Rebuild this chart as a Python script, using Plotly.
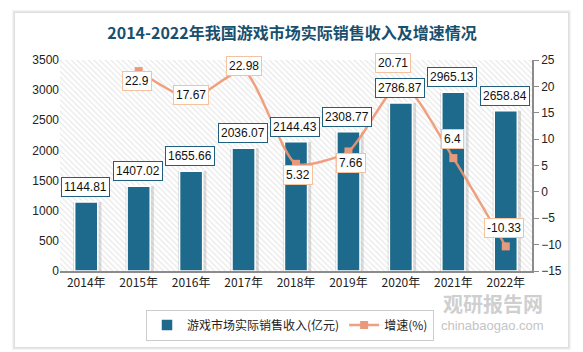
import plotly.graph_objects as go

years = ["2014年", "2015年", "2016年", "2017年", "2018年", "2019年", "2020年", "2021年", "2022年"]
revenue = [1144.81, 1407.02, 1655.66, 2036.07, 2144.43, 2308.77, 2786.87, 2965.13, 2658.84]
growth = [None, 22.9, 17.67, 22.98, 5.32, 7.66, 20.71, 6.4, -10.33]

bar_name = "游戏市场实际销售收入(亿元)"
line_name = "增速(%)"
title = "2014-2022年我国游戏市场实际销售收入及增速情况"

# label pixel offsets (style only)
growth_label_shift = [None, (-2, -10), (0, 4), (0, 5), (2, -11), (2.5, -11.5), (-8, 20), (-1, 19), (-1.5, 18.5)]

BAR_COLOR = "#1d6a8c"
LINE_COLOR = "rgba(238,150,112,0.9)"
MARK_COLOR = "#EA9A7C"
FONT = "Liberation Sans"
CJK = "Noto Sans CJK SC"

xs = list(range(len(years)))
n = len(xs)

fig = go.Figure()

# hatched plot background (one full-width bar)
fig.add_trace(go.Bar(
    x=[(n - 1) / 2], y=[3500], width=n,
    marker=dict(color="white", line=dict(width=0),
                pattern=dict(shape="\\", fgcolor="#d2d2d2", bgcolor="white", size=4, solidity=0.3)),
    hoverinfo="skip", showlegend=False,
))

# bar shadow
fig.add_trace(go.Bar(
    x=xs, y=revenue, width=0.54, offset=-0.25,
    marker=dict(color="rgba(120,120,120,0.25)", line=dict(width=0)),
    hoverinfo="skip", showlegend=False,
))

fig.add_trace(go.Bar(
    x=xs, y=revenue, name=bar_name, width=0.44,
    marker=dict(color=BAR_COLOR, line=dict(color="white", width=1.5)),
))

fig.add_trace(go.Scatter(
    x=xs, y=growth, name=line_name, yaxis="y2", mode="lines+markers",
    line=dict(color=LINE_COLOR, width=2.5, shape="spline", smoothing=0.6),
    marker=dict(symbol="square", size=8, color=MARK_COLOR),
    connectgaps=False,
))

annotations = []
for i, v in enumerate(revenue):
    annotations.append(dict(
        x=xs[i], y=v, xref="x", yref="y", text=f"{v:.2f}", showarrow=False,
        yshift=15, xshift=-1, yanchor="middle",
        font=dict(family=FONT, size=12, color="#111"),
        bgcolor="white", bordercolor="#1f5f7f", borderwidth=1, borderpad=2,
    ))
for i, v in enumerate(growth):
    if v is None:
        continue
    dx, dy = growth_label_shift[i]
    annotations.append(dict(
        x=xs[i], y=v, xref="x", yref="y2", text=f"{v:g}", showarrow=False,
        yshift=dy, xshift=dx, yanchor="middle",
        font=dict(family=FONT, size=12, color="#111"),
        bgcolor="white", bordercolor="#F5C29F", borderwidth=1, borderpad=2,
    ))


def px(xp):
    return (xp - 60) / 472


def py(yp):
    return (271 - yp) / 211


# watermark
annotations.append(dict(x=px(493), y=py(303), xref="paper", yref="paper", text="<b>观研报告网</b>",
                        showarrow=False, font=dict(family=CJK, size=20, color="#cfcfcf"),
                        xanchor="center", yanchor="middle"))
annotations.append(dict(x=px(492), y=py(325), xref="paper", yref="paper", text="chinabaogao.com",
                        showarrow=False, font=dict(family=FONT, size=13, color="#c4c4c4"),
                        xanchor="center", yanchor="middle"))

shapes = []
# card shadow layers
for k, col in enumerate(["#f3f3f3", "#e9e9e9", "#dedede"]):
    off = 3 - k
    shapes.append(dict(type="rect", xref="paper", yref="paper", layer="below",
                       x0=px(15 - off), x1=px(568 + off), y0=py(347 + off), y1=py(13 - off),
                       fillcolor=col, line=dict(width=0)))
shapes.append(dict(type="rect", xref="paper", yref="paper", layer="below",
                   x0=px(15), x1=px(568), y0=py(347), y1=py(13),
                   fillcolor="white", line=dict(width=0)))

fig.update_layout(
    width=583, height=352,
    margin=dict(l=60, r=51, t=60, b=81),
    paper_bgcolor="white", plot_bgcolor="rgba(0,0,0,0)",
    barmode="overlay",
    title=dict(text=title, x=292 / 583, xanchor="center", y=1 - 33 / 352, yanchor="middle",
               font=dict(family=CJK, size=16, color="#17506e", weight="bold")),
    xaxis=dict(range=[-0.5, 8.5], tickvals=xs, ticktext=years, showgrid=False, zeroline=False,
               showline=True, linecolor="#8c8c8c", linewidth=1.5, ticks="",
               tickfont=dict(family=CJK, size=12, color="#222")),
    yaxis=dict(range=[0, 3500], dtick=500, showgrid=False, zeroline=False, showline=False,
               ticks="", tickfont=dict(family=FONT, size=12, color="#222")),
    yaxis2=dict(range=[-15, 25], dtick=5, overlaying="y", side="right", showgrid=False, zeroline=False,
                showline=True, linecolor="#8c8c8c", linewidth=1.5, ticks="outside", ticklen=5,
                tickcolor="#8c8c8c", tickfont=dict(family=FONT, size=12, color="#222")),
    legend=dict(orientation="h", x=290 / 583, xref="container", y=1 - 325 / 352, yref="container",
                xanchor="center", yanchor="middle", bordercolor="#cccccc", borderwidth=1,
                bgcolor="white", font=dict(family=CJK, size=12, color="#222"),
                itemwidth=30, traceorder="normal"),
    annotations=annotations,
    shapes=shapes,
    showlegend=True,
)

fig.write_html("out.html")
